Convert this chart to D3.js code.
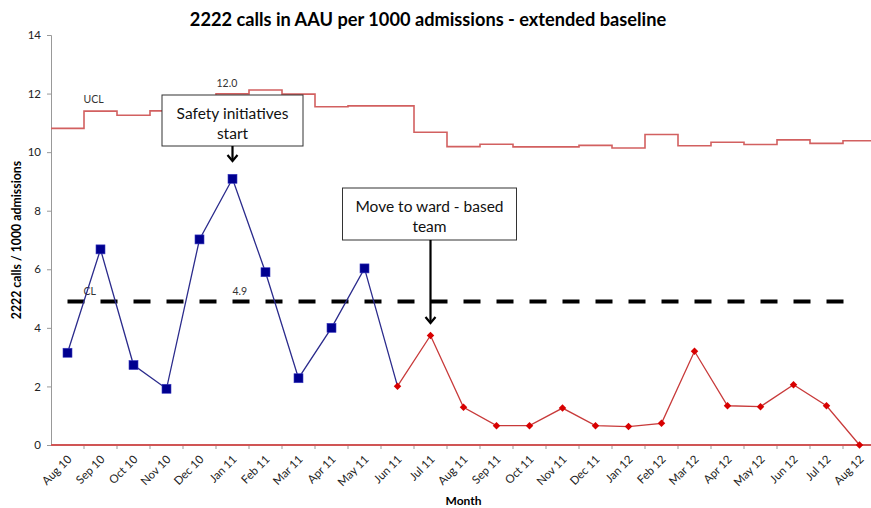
<!DOCTYPE html>
<html>
<head>
<meta charset="utf-8">
<script src="https://cdn.jsdelivr.net/npm/d3@7"></script>
<style>
  body { margin: 0; background: #fff; }
  svg { font-family: Lato, "Open Sans", sans-serif; }
</style>
</head>
<body>
<div id="chart"></div>
<script>
// months on the x axis
const months = ["Aug 10","Sep 10","Oct 10","Nov 10","Dec 10","Jan 11","Feb 11","Mar 11","Apr 11",
  "May 11","Jun 11","Jul 11","Aug 11","Sep 11","Oct 11","Nov 11","Dec 11","Jan 12","Feb 12",
  "Mar 12","Apr 12","May 12","Jun 12","Jul 12","Aug 12"];

// baseline period (blue squares), Aug 10 - May 11
const baselineValues = [3.15, 6.68, 2.73, 1.92, 7.02, 9.09, 5.90, 2.28, 4.00, 6.03];
// after change (red diamonds), Jun 11 - Aug 12
const afterValues = [2.01, 3.74, 1.29, 0.66, 0.66, 1.26, 0.66, 0.63, 0.74, 3.20, 1.34, 1.31, 2.06, 1.34, 0.0];
// upper control limit per month
const uclValues = [10.81, 11.40, 11.26, 11.41, 11.65, 11.99, 12.12, 11.98, 11.55, 11.58, 11.58, 10.68,
  10.19, 10.27, 10.18, 10.18, 10.23, 10.14, 10.60, 10.22, 10.34, 10.26, 10.42, 10.30, 10.39];
const centerLine = 4.9;
const lowerLimit = 0;
const yTicks = [0, 2, 4, 6, 8, 10, 12, 14];

const W = 871, H = 508;
const margin = { top: 35, left: 51 };
const plotW = 825, plotH = 410;

const svg = d3.select("#chart").append("svg")
  .attr("width", W).attr("height", H);

const x = d3.scaleBand().domain(months).range([0, plotW]).padding(0);
const cx = m => x(m) + x.bandwidth() / 2;
const y = d3.scaleLinear().domain([0, 14]).range([plotH, 0]);

const g = svg.append("g").attr("transform", `translate(${margin.left},${margin.top})`);

// title
svg.append("text")
  .attr("x", 428).attr("y", 26)
  .attr("text-anchor", "middle")
  .attr("font-size", 18.2).attr("font-weight", "bold")
  .text("2222 calls in AAU per 1000 admissions - extended baseline");

// y axis
const yAxis = g.append("g")
  .call(d3.axisLeft(y).tickValues(yTicks).tickSize(4).tickPadding(6));
yAxis.select(".domain").attr("stroke", "#999");
yAxis.selectAll(".tick line").attr("stroke", "#999");
yAxis.selectAll(".tick text").attr("font-size", 11.5).attr("fill", "#222")
  .attr("font-family", "Lato, sans-serif");

svg.append("text")
  .attr("transform", `translate(21,240) rotate(-90)`)
  .attr("text-anchor", "middle")
  .attr("font-size", 12.3).attr("font-weight", "bold")
  .text("2222 calls / 1000 admissions");

// x axis: ticks at month boundaries
const xg = g.append("g").attr("transform", `translate(0,${plotH})`);
xg.append("line").attr("x1", 0).attr("x2", plotW).attr("stroke", "#999");
xg.selectAll(".xt").data(months).join("line")
  .attr("x1", d => x(d) + x.bandwidth()).attr("x2", d => x(d) + x.bandwidth())
  .attr("y1", 0).attr("y2", 4).attr("stroke", "#999");
xg.selectAll(".xl").data(months).join("text")
  .attr("transform", d => `translate(${cx(d) + 5},${15}) rotate(-45)`)
  .attr("text-anchor", "end")
  .attr("font-size", 11.5).attr("fill", "#222")
  .text(d => d);

svg.append("text")
  .attr("x", margin.left + plotW / 2).attr("y", 505)
  .attr("text-anchor", "middle")
  .attr("font-size", 12).attr("font-weight", "bold")
  .text("Month");

// LCL on the baseline
g.append("line")
  .attr("x1", 0).attr("x2", plotW)
  .attr("y1", y(lowerLimit)).attr("y2", y(lowerLimit))
  .attr("stroke", "#d05555").attr("stroke-width", 2);

// UCL step line
const uclPts = months.map((m, i) => [x(m), uclValues[i]]);
uclPts.push([plotW, uclValues[uclValues.length - 1]]);
g.append("path")
  .attr("d", d3.line().x(d => d[0]).y(d => y(d[1])).curve(d3.curveStepAfter)(uclPts))
  .attr("fill", "none").attr("stroke", "#d26060").attr("stroke-width", 1.6);

// centre line
g.append("line")
  .attr("x1", cx(months[0])).attr("x2", cx(months[months.length - 1]))
  .attr("y1", y(centerLine)).attr("y2", y(centerLine))
  .attr("stroke", "#000").attr("stroke-width", 4)
  .attr("stroke-dasharray", "17,16");

// limit labels
g.append("text").attr("x", cx(months[0]) + 16).attr("y", y(uclValues[0]) - 25)
  .attr("font-size", 10.5).attr("fill", "#333").text("UCL");
g.append("text").attr("x", cx(months[5]) - 16).attr("y", y(uclValues[5]) - 7)
  .attr("font-size", 10.5).attr("fill", "#333").text("12.0");
g.append("text").attr("x", cx(months[1]) - 17).attr("y", y(centerLine) - 7)
  .attr("font-size", 10.5).attr("fill", "#333").text("CL");
g.append("text").attr("x", cx(months[5]) + 0).attr("y", y(centerLine) - 7)
  .attr("font-size", 10.5).attr("fill", "#333").text("4.9");

// series
const line = d3.line().x(d => cx(d.m)).y(d => y(d.v));
const basePts = baselineValues.map((v, i) => ({ m: months[i], v }));
const afterPts = afterValues.map((v, i) => ({ m: months[i + baselineValues.length], v }));

g.append("path").datum(basePts.concat([afterPts[0]]))
  .attr("d", line).attr("fill", "none").attr("stroke", "#2b2b8c").attr("stroke-width", 1.3);
g.append("path").datum(afterPts)
  .attr("d", line).attr("fill", "none").attr("stroke", "#c83a3a").attr("stroke-width", 1.3);

g.selectAll(".sq").data(basePts).join("rect")
  .attr("x", d => cx(d.m) - 4.5).attr("y", d => y(d.v) - 4.5)
  .attr("width", 9).attr("height", 9)
  .attr("fill", "#00008f").attr("stroke", "#3a3ac0").attr("stroke-width", 0.6);

g.selectAll(".dm").data(afterPts).join("path")
  .attr("transform", d => `translate(${cx(d.m)},${y(d.v)}) rotate(45)`)
  .attr("d", d3.symbol(d3.symbolSquare, 28))
  .attr("fill", "#d80000");

// annotation boxes with arrows
function callout(monthIdx, lines, box, arrowEnd) {
  const ax = cx(months[monthIdx]);
  const bx = margin.left + ax - box.w / 2 + box.dx;
  const gb = svg.append("g");
  gb.append("rect").attr("x", bx).attr("y", box.y).attr("width", box.w).attr("height", box.h)
    .attr("fill", "#fff").attr("stroke", "#333").attr("stroke-width", 1);
  lines.forEach((t, i) => {
    gb.append("text").attr("x", bx + box.w / 2).attr("y", box.y + 24 + i * 20)
      .attr("text-anchor", "middle").attr("font-size", 15.5).attr("fill", "#111").text(t);
  });
  const X = margin.left + ax;
  gb.append("line").attr("x1", X).attr("x2", X).attr("y1", box.y + box.h).attr("y2", arrowEnd)
    .attr("stroke", "#000").attr("stroke-width", 2.2);
  gb.append("path")
    .attr("d", `M${X - 5},${arrowEnd - 6} L${X},${arrowEnd} L${X + 5},${arrowEnd - 6}`)
    .attr("fill", "none").attr("stroke", "#000").attr("stroke-width", 2.2);
}
callout(5, ["Safety initiatives", "start"], { y: 95, w: 141, h: 51, dx: 0 }, 161);
callout(11, ["Move to ward - based", "team"], { y: 188, w: 174, h: 52, dx: -1 }, 323);
</script>
</body>
</html>
